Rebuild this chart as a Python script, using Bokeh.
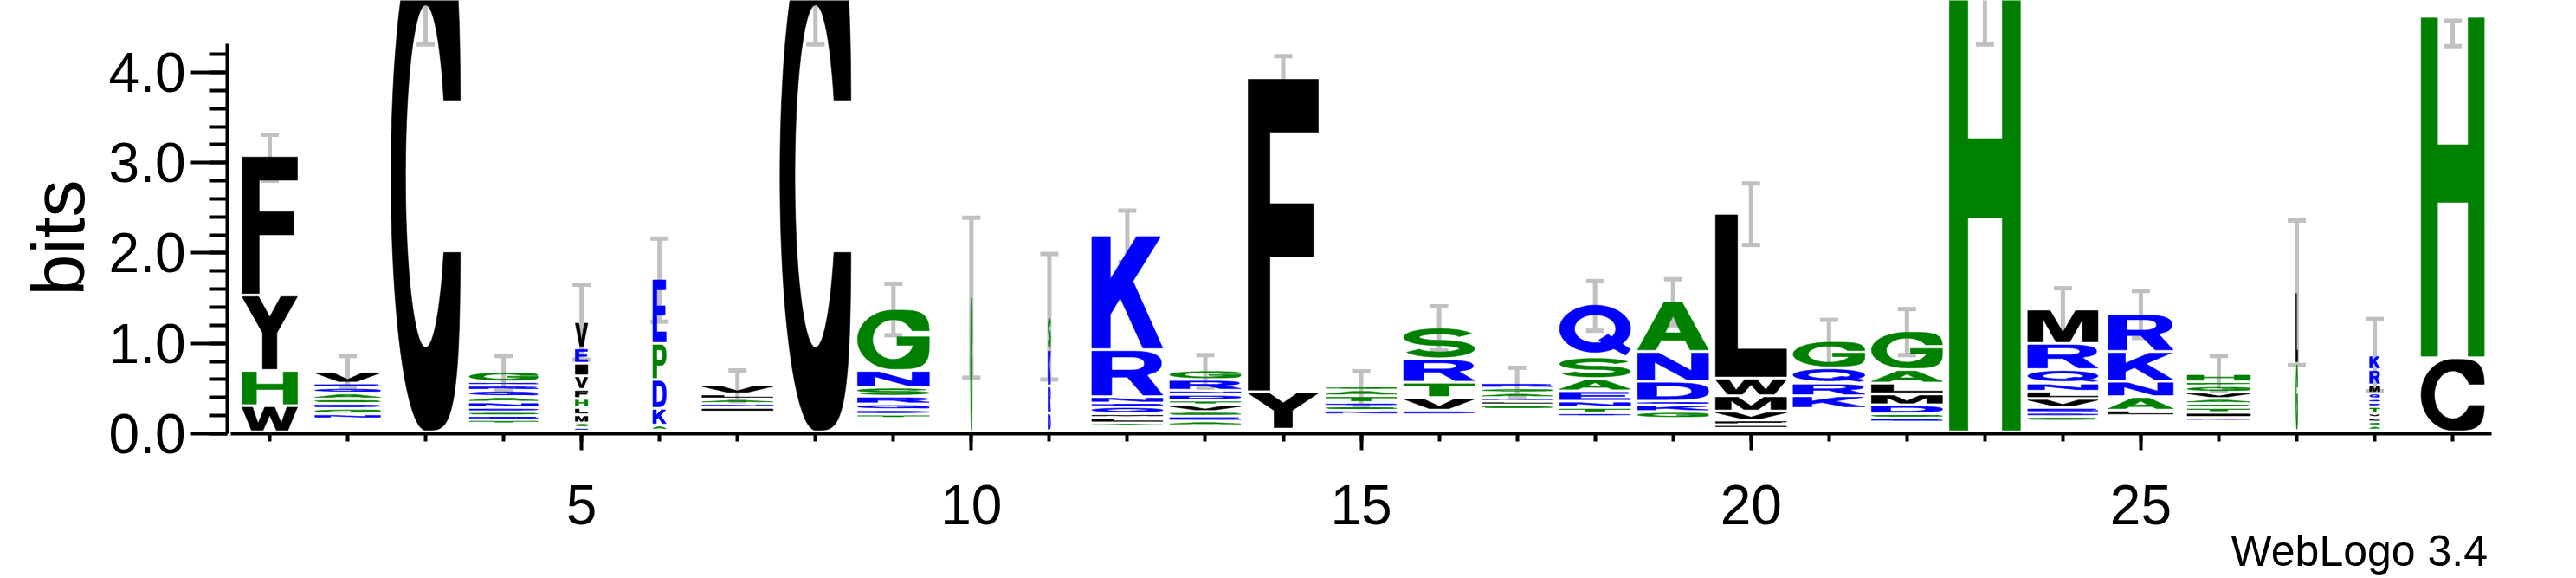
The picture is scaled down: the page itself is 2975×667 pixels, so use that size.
import numpy as np
from bokeh.plotting import figure
from bokeh.models import (LinearAxis, SingleIntervalTicker, PrintfTickFormatter,
                          Whisker, TeeHead, ColumnDataSource, Range1d)
from bokeh.core.properties import value
from bokeh.embed import file_html
from bokeh.resources import INLINE

positions = list(range(1, 30))
# letters of each stack, bottom -> top
stack_letters = ["WHYF", "NGDSAQEV", "C", "TESDNAQRKG", "NGMLHFVIEV", "AKDPE", "INALV", "C",
                 "TDQRSNG", "G", "DRKS", "ALMQENRK", "AESVTDNRG", "YF", "NSETAG", "DVTRS",
                 "SLNAGR", "DTNEASQ", "GKQDNA", "IFVMWL", "KRQG", "ESDMLAG", "H", "SDEVLNQRM",
                 "LANKR", "NITSAVGPH", "GL", "AGLVTDEQMRK", "CH"]
# letter heights in bits, same order
stack_heights = [
    [0.29, 0.39, 0.835, 1.545],
    [0.055, 0.06, 0.055, 0.05, 0.065, 0.06, 0.05, 0.13],
    [5.66],
    [0.045, 0.045, 0.043, 0.047, 0.06, 0.06, 0.07, 0.055, 0.04, 0.115],
    [0.038, 0.052, 0.09, 0.08, 0.10, 0.10, 0.15, 0.14, 0.17, 0.29],
    [0.055, 0.185, 0.32, 0.40, 0.72],
    [0.05, 0.045, 0.05, 0.055, 0.10],
    [5.66],
    [0.045, 0.05, 0.065, 0.085, 0.10, 0.185, 0.685],
    [1.50],
    [0.20, 0.30, 0.40, 0.37],
    [0.04, 0.06, 0.04, 0.08, 0.04, 0.07, 0.52, 1.27],
    [0.05, 0.055, 0.05, 0.075, 0.05, 0.065, 0.045, 0.12, 0.105],
    [0.415, 3.475],
    [0.05, 0.045, 0.04, 0.075, 0.065, 0.04],
    [0.05, 0.14, 0.17, 0.26, 0.35],
    [0.05, 0.04, 0.04, 0.055, 0.05, 0.06],
    [0.04, 0.06, 0.07, 0.115, 0.135, 0.24, 0.59],
    [0.075, 0.075, 0.04, 0.22, 0.33, 0.56],
    [0.04, 0.05, 0.10, 0.17, 0.195, 1.825],
    [0.14, 0.14, 0.17, 0.30],
    [0.045, 0.045, 0.10, 0.12, 0.12, 0.15, 0.43],
    [5.20],
    [0.05, 0.045, 0.055, 0.10, 0.08, 0.09, 0.15, 0.29, 0.38],
    [0.06, 0.15, 0.17, 0.33, 0.42],
    [0.04, 0.055, 0.055, 0.045, 0.055, 0.07, 0.07, 0.045, 0.09],
    [0.75, 0.79],
    [0.05, 0.04, 0.05, 0.045, 0.075, 0.045, 0.04, 0.065, 0.09, 0.17, 0.16],
    [0.82, 3.78],
]
# combined height of residues too small to be drawn (bottom of each stack)
hidden_bits = [0.02, 0.165, 0.02, 0.11, 0.03, 0.04, 0.24, 0.02, 0.17, 0.02, 0.03, 0.08, 0.09, 0.05,
               0.21, 0.21, 0.27, 0.19, 0.17, 0.06, 0.28, 0.13, 0.02, 0.14, 0.20, 0.14, 0.03, 0.04, 0.02]
# stack widths (column units; narrow = many gaps)
stack_widths = [0.71, 0.84, 0.89, 0.88, 0.16, 0.17, 0.91, 0.91, 0.92, 0.02, 0.03, 0.91, 0.91, 0.90,
                0.91, 0.91, 0.90, 0.91, 0.91, 0.91, 0.92, 0.91, 0.91, 0.90, 0.83, 0.81, 0.02, 0.13, 0.81]
err_low = [2.80, 0.51, 4.31, 0.49, 0.82, 1.24, 0.36, 4.31, 1.09, 0.62, 0.60, 1.90, 0.51, 3.67, 0.31,
           0.92, 0.40, 1.14, 1.20, 2.09, 0.76, 0.87, 4.31, 1.10, 1.06, 0.47, 0.76, 0.47, 4.29]
err_high = [3.31, 0.86, 4.95, 0.86, 1.65, 2.16, 0.70, 4.95, 1.66, 2.39, 1.99, 2.47, 0.87, 4.18, 0.69,
            1.41, 0.73, 1.69, 1.71, 2.77, 1.26, 1.38, 4.95, 1.61, 1.58, 0.86, 2.36, 1.27, 4.57]
y_label = "bits"
credit = "WebLogo 3.4"

BLUE, GREEN, BLACK = "#0000FF", "#008000", "#000000"
color_of = {}
for ch in "RKDENQ":
    color_of[ch] = BLUE
for ch in "SGHTAP":
    color_of[ch] = GREEN
for ch in "YVMCLFIW":
    color_of[ch] = BLACK

# ---------------- glyph outlines (unit box) ----------------
def P(*pts):
    return np.array(pts, dtype=float)

def sarc(cx, cy, rx, ry, a0, a1, e=1.0, n=60):
    t = np.radians(np.linspace(a0, a1, n))
    c, s = np.cos(t), np.sin(t)
    return np.column_stack([cx + rx * np.sign(c) * np.abs(c) ** e,
                            cy + ry * np.sign(s) * np.abs(s) ** e])

def bowl(t0, t1, n=160):
    t = np.radians(np.linspace(t0, t1, n))
    c, s = np.cos(t), np.sin(t)
    e = np.where(c > 0, 0.5, 1.0)
    return np.column_stack([0.5 + 0.5 * np.sign(c) * np.abs(c) ** e,
                            0.5 + 0.5 * np.sign(s) * np.abs(s) ** e])

def stroke(pts, hw):
    d = np.gradient(pts, axis=0)
    d /= np.linalg.norm(d, axis=1)[:, None]
    nrm = np.column_stack([-d[:, 1], d[:, 0]])
    return np.vstack([pts + hw * nrm, (pts - hw * nrm)[::-1]])

tu = np.degrees(np.arcsin(0.3 ** 2))
ti = np.degrees(np.arcsin(0.15 / 0.337))
tb = 360 + np.degrees(np.arcsin(0.092 ** 2))
ag = np.degrees(np.arccos(0.27 / 0.29))

shapes = {
    "A": [[P((0, 0), (0.26, 0), (0.33, 0.2), (0.67, 0.2), (0.74, 0), (1, 0), (0.63, 1), (0.37, 1)),
           P((0.39, 0.36), (0.61, 0.36), (0.5, 0.72))]],
    "C": [[np.vstack([bowl(tu, 360 - tu), sarc(0.5, 0.5, 0.29, 0.337, 360 - ti, ti)])]],
    "D": [[np.vstack([P((0, 0)), sarc(0.4, 0.5, 0.6, 0.5, -90, 90, 0.7), P((0, 1))]),
           np.vstack([P((0.27, 0.18)), sarc(0.4, 0.5, 0.36, 0.32, -90, 90, 0.8), P((0.27, 0.82))])]],
    "E": [[P((0, 0), (1, 0), (1, 0.16), (0.3, 0.16), (0.3, 0.43), (0.92, 0.43), (0.92, 0.58),
             (0.3, 0.58), (0.3, 0.84), (0.97, 0.84), (0.97, 1), (0, 1))]],
    "F": [[P((0, 0), (0.31, 0), (0.31, 0.43), (0.93, 0.43), (0.93, 0.6), (0.31, 0.6), (0.31, 0.83),
             (1, 0.83), (1, 1), (0, 1))]],
    "G": [[np.vstack([bowl(tu, tb), P((0.55, 0.546), (0.55, 0.40), (0.77, 0.40)),
                      sarc(0.5, 0.5, 0.29, 0.337, -ag, -360 + ti)])]],
    "H": [[P((0, 0), (0.26, 0), (0.26, 0.455), (0.745, 0.455), (0.745, 0), (1, 0), (1, 1), (0.745, 1),
             (0.745, 0.625), (0.26, 0.625), (0.26, 1), (0, 1))]],
    "I": [[P((0, 0), (1, 0), (1, 1), (0, 1))]],
    "K": [[P((0, 0), (0.26, 0), (0.26, 0.3), (0.4, 0.45), (0.72, 0), (1, 0), (0.58, 0.6), (0.97, 1),
             (0.63, 1), (0.26, 0.62), (0.26, 1), (0, 1))]],
    "L": [[P((0, 0), (1, 0), (1, 0.17), (0.31, 0.17), (0.31, 1), (0, 1))]],
    "M": [[P((0, 0), (0.22, 0), (0.22, 0.72), (0.4, 0), (0.6, 0), (0.78, 0.72), (0.78, 0), (1, 0),
             (1, 1), (0.68, 1), (0.5, 0.3), (0.32, 1), (0, 1))]],
    "N": [[P((0, 0), (0.24, 0), (0.24, 0.66), (0.7, 0), (1, 0), (1, 1), (0.76, 1), (0.76, 0.34),
             (0.3, 1), (0, 1))]],
    "P": [[np.vstack([P((0, 0), (0.29, 0), (0.29, 0.38)), sarc(0.58, 0.69, 0.42, 0.31, -90, 90, 0.8),
                      P((0, 1))]),
           np.vstack([P((0.29, 0.54)), sarc(0.55, 0.695, 0.18, 0.155, -90, 90, 0.9), P((0.29, 0.85))])]],
    "Q": [[sarc(0.5, 0.53, 0.5, 0.47, 0, 360, 1.0, 120), sarc(0.5, 0.53, 0.29, 0.28, 0, 360, 1.0, 90)],
          [P((0.55, 0.30), (0.68, 0.42), (1.0, 0.12), (0.93, 0.0))]],
    "R": [[np.vstack([P((0, 0), (0.28, 0), (0.28, 0.41), (0.5, 0.41), (0.72, 0), (1, 0), (0.78, 0.45)),
                      sarc(0.58, 0.725, 0.4, 0.275, -60, 90, 0.8), P((0, 1))]),
           np.vstack([P((0.28, 0.57)), sarc(0.55, 0.72, 0.19, 0.15, -90, 90, 0.9), P((0.28, 0.87))])]],
    "S": [[stroke(np.vstack([sarc(0.5, 0.72, 0.36, 0.22, 20, 270),
                             sarc(0.5, 0.28, 0.36, 0.22, 90, -160)[1:]]), 0.1)]],
    "T": [[P((0, 0.83), (0, 1), (1, 1), (1, 0.83), (0.64, 0.83), (0.64, 0), (0.36, 0), (0.36, 0.83))]],
    "V": [[P((0, 1), (0.28, 1), (0.5, 0.25), (0.72, 1), (1, 1), (0.64, 0), (0.36, 0))]],
    "W": [[P((0, 1), (0.19, 1), (0.29, 0.3), (0.41, 1), (0.59, 1), (0.71, 0.3), (0.81, 1), (1, 1),
             (0.83, 0), (0.62, 0), (0.5, 0.65), (0.38, 0), (0.17, 0))]],
    "Y": [[P((0, 1), (0.3, 1), (0.5, 0.72), (0.7, 1), (1, 1), (0.63, 0.5), (0.63, 0), (0.37, 0),
             (0.37, 0.5))]],
}

def normalise(polys):
    allp = np.vstack([r for poly in polys for r in poly])
    mn, mx = allp.min(0), allp.max(0)
    return [[(r - mn) / (mx - mn) for r in poly] for poly in polys]

GLYPHS = {k: normalise(v) for k, v in shapes.items()}

# ---------------- build the letter polygons from the data ----------------
GAP = 0.035
xs, ys, cols = [], [], []
for pos, letters, heights, base, w in zip(positions, stack_letters, stack_heights,
                                          hidden_bits, stack_widths):
    y = base
    for ch, h in zip(letters, heights):
        y0, y1 = y + GAP / 2, y + h - GAP / 2
        y += h
        if y1 - y0 <= 0:
            continue
        x0 = pos - w / 2
        for poly in GLYPHS[ch]:
            xs.append([[x0 + r[:, 0] * w for r in poly]])
            ys.append([[y0 + r[:, 1] * (y1 - y0) for r in poly]])
            cols.append(color_of[ch])

# ---------------- figure (frame covers the whole canvas; axes at fixed locations) ----------------
p = figure(width=2975, height=667, x_range=Range1d(-2.454, 30.587), y_range=Range1d(-1.602, 4.796),
           output_backend="svg", toolbar_location=None, title=None,
           x_axis_type=None, y_axis_type=None,
           min_border_left=0, min_border_right=0, min_border_top=0, min_border_bottom=0)
p.outline_line_color = None
p.background_fill_color = "white"
p.border_fill_color = "white"

p.multi_polygons(xs=xs, ys=ys, fill_color=cols, line_color=cols, line_width=0.6)

src = ColumnDataSource(dict(base=positions, lower=err_low, upper=err_high))
GRAY = "#C0C0C0"
p.add_layout(Whisker(base="base", lower="lower", upper="upper", source=src,
                     line_color=GRAY, line_width=5,
                     upper_head=TeeHead(size=21, line_color=GRAY, line_width=5),
                     lower_head=TeeHead(size=21, line_color=GRAY, line_width=5)))

FONT = "Liberation Sans"
xaxis = LinearAxis(ticker=SingleIntervalTicker(interval=5, num_minor_ticks=5), bounds=(0.5, 29.5),
                   fixed_location=0,
                   axis_line_width=4, major_tick_line_width=4, minor_tick_line_width=4,
                   major_tick_out=19, major_tick_in=0, minor_tick_out=9, minor_tick_in=0,
                   major_label_text_font=FONT, major_label_text_font_size="64px",
                   major_label_standoff=41, major_label_text_color="black")
p.add_layout(xaxis, "below")

yaxis = LinearAxis(ticker=SingleIntervalTicker(interval=1, num_minor_ticks=5), bounds=(0, 4.32),
                   fixed_location=0.456,
                   formatter=PrintfTickFormatter(format="%.1f"),
                   axis_line_width=4, major_tick_line_width=4, minor_tick_line_width=4,
                   major_tick_out=42, major_tick_in=0, minor_tick_out=21, minor_tick_in=0,
                   major_label_text_font=FONT, major_label_text_font_size="64px",
                   major_label_standoff=6, major_label_text_color="black")
p.add_layout(yaxis, "left")

p.text(x=[-1.71], y=[2.168], text=[y_label], angle=np.pi / 2, text_align="center",
       text_baseline="alphabetic", text_font=value(FONT), text_font_size="86px",
       text_color="black")
p.text(x=[29.449], y=[-1.30], text=[credit], text_align="right",
       text_baseline="alphabetic", text_font=value(FONT), text_font_size="50px",
       text_color="black")

open("out.html", "w").write(file_html(p, INLINE))
